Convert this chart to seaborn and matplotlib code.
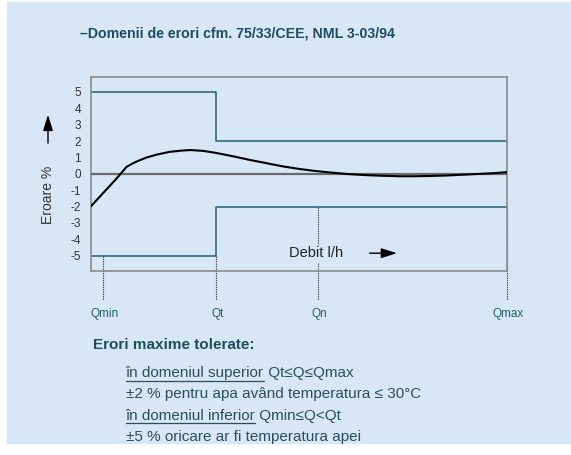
import matplotlib
matplotlib.use("Agg")
import matplotlib.pyplot as plt
from matplotlib.patches import Rectangle, FancyArrowPatch
import seaborn as sns
import pandas as pd

# debit (relativ, 0..100) si eroarea
debit = [0, 2, 4, 6, 7.2, 8.6, 10, 11.5, 13.5, 16, 19, 22, 24, 27, 30, 34, 38,
         42, 46, 50, 54, 58, 62, 66, 70, 74, 78, 82, 86, 90, 94, 97, 100]
eroare = [-2.0, -1.45, -0.9, -0.35, 0.0, 0.42, 0.62, 0.8, 1.0, 1.18, 1.34,
          1.42, 1.45, 1.4, 1.28, 1.08, 0.86, 0.66, 0.46, 0.3, 0.17, 0.07,
          -0.02, -0.08, -0.12, -0.15, -0.15, -0.13, -0.1, -0.05, 0.0, 0.04,
          0.1]

# limitele erorii maxime tolerate
lim_x = [0, 30, 30, 100]
lim_sus = [5, 5, 2, 2]
lim_jos = [-5, -5, -2, -2]

# debite caracteristice
q_names = ["Qmin", "Qt", "Qn", "Qmax"]
q_pos = [3.0, 30.0, 54.6, 100.0]
q_top = [-5, -5, -2, -2]

yticks = [5, 4, 3, 2, 1, 0, -1, -2, -3, -4, -5]

text_lines = ["în domeniul superior", "±2 % pentru apa având temperatura ≤ 30°C",
              "în domeniul inferior", "±5 % oricare ar fi temperatura apei"]
text_tail = [" Qt≤Q≤Qmax", None, " Qmin≤Q<Qt", None]

BG = "#d7e7f6"
TEAL = "#235f74"
DARK = "#1e4d60"

sns.set_theme(style="white")
plt.rcParams["font.family"] = ["Liberation Sans", "DejaVu Sans"]

W, H = 571, 455
fig = plt.figure(figsize=(W / 100, H / 100), dpi=100)
fig.patch.set_facecolor("white")
fig.patches.append(Rectangle((7 / W, 12 / H), 564 / W, 441 / H,
                             transform=fig.transFigure, color=BG, zorder=-10))

ax = fig.add_axes([90.7 / W, 1 - 270.7 / H, 416 / W, 194 / H])
ax.set_facecolor(BG)

df = pd.DataFrame({"debit": debit, "eroare": eroare})
sns.lineplot(data=df, x="debit", y="eroare", ax=ax, color="black", lw=1.5,
             sort=False, zorder=4)
lim = pd.DataFrame({"x": lim_x, "sus": lim_sus, "jos": lim_jos})
sns.lineplot(data=lim, x="x", y="sus", ax=ax, color=TEAL, lw=1.1, sort=False,
             estimator=None)
sns.lineplot(data=lim, x="x", y="jos", ax=ax, color=TEAL, lw=1.1, sort=False,
             estimator=None)
ax.axhline(0, color="#6b6b6b", lw=1.6, zorder=3)

ax.set_xlim(0, 100)
ax.set_ylim(-5.92, 5.93)
ax.set_yticks(yticks)
ax.set_yticklabels([str(t) for t in yticks], fontsize=8.5, color="#333333")
ax.set_xticks([])
ax.tick_params(axis="y", length=0, pad=7)
ax.set_xlabel("")
ax.set_ylabel("")
for s in ax.spines.values():
    s.set_color("#8c8c8c")
    s.set_linewidth(1.2)

# linii punctate spre etichetele de debit
y_low = -5.92 - 29.5 / 16.37
dots = (0, (1.2, 0.9))
for name, xq, yt in zip(q_names, q_pos, q_top):
    if name == "Qn":
        ax.plot([xq, xq], [yt, -4.35], ls=dots, color="#444444", lw=0.8,
                clip_on=False)
        ax.plot([xq, xq], [-5.45, y_low], ls=dots, color="#444444",
                lw=0.8, clip_on=False)
    else:
        ax.plot([xq, xq], [yt, y_low], ls=dots, color="#444444",
                lw=0.8, clip_on=False)
    ax.text(xq + 0.4, y_low - 0.85, name, ha="center", va="center",
            fontsize=8.5, color=TEAL, clip_on=False)

ax.text(47.7, -4.85, "Debit l/h", ha="left", va="center", fontsize=10.5,
        color="#222222")
ax.annotate("", xy=(74.3, -4.85), xytext=(66.4, -4.85),
            arrowprops=dict(arrowstyle="-|>,head_length=0.8,head_width=0.25",
                            color="black", lw=1.0, mutation_scale=12))

# eticheta axei y cu sageata
fig.text(48 / W, 1 - 195 / H, "Eroare %", rotation=90, ha="center",
         va="center", fontsize=10, color="#333333")
fig.patches.append(FancyArrowPatch(
    (48 / W, 1 - 146 / H), (48 / W, 1 - 112 / H), transform=fig.transFigure,
    arrowstyle="-|>,head_length=0.8,head_width=0.25", mutation_scale=12,
    color="black", lw=1.0))

fig.text(80 / W, 1 - 33 / H, "–Domenii de erori cfm. 75/33/CEE, NML 3-03/94",
         ha="left", va="center", fontsize=10.2, fontweight="bold", color=DARK)

fig.text(93 / W, 1 - 345 / H, "Erori maxime tolerate:", ha="left",
         va="center", fontsize=11, fontweight="bold", color=DARK)

fig.canvas.draw()
renderer = fig.canvas.get_renderer()
ys = [373, 394, 415.7, 436.7]
for line, tail, yy in zip(text_lines, text_tail, ys):
    t = fig.text(125.7 / W, 1 - yy / H, line, ha="left", va="center",
                 fontsize=11, color="#2a4f60")
    if tail is not None:
        bb = t.get_window_extent(renderer)
        x0, x1 = bb.x0 / fig.dpi / (W / 100), bb.x1 / fig.dpi / (W / 100)
        yl = (bb.y0 - 0.5) / fig.dpi / (H / 100)
        fig.add_artist(plt.Line2D([x0, x1], [yl, yl], transform=fig.transFigure,
                                  color="#2a4f60", lw=0.9))
        fig.text(x1, 1 - yy / H, tail, ha="left", va="center", fontsize=11,
                 color="#2a4f60")

fig.savefig("out.png", dpi=100, facecolor=fig.get_facecolor())
